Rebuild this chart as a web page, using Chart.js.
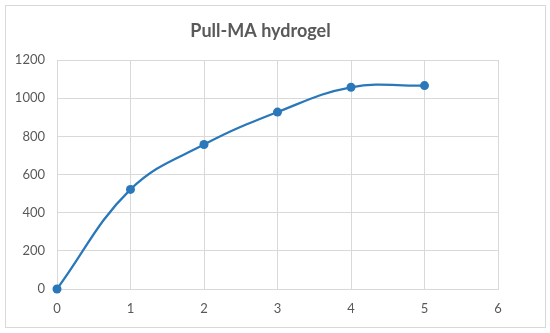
<!DOCTYPE html>
<html lang="en">
<head>
  <meta charset="UTF-8" />
  <title>Pull-MA hydrogel</title>
  <script src="https://cdn.jsdelivr.net/npm/chart.js"></script>
  <style>
    body {
      margin: 0;
      background: white;
    }
    .wrap {
      position: relative;
      width: 550px;
      height: 333px;
    }
    .frame {
      position: absolute;
      left: 5px;
      top: 5px;
      width: 539px;
      height: 321px;
      border: 1px solid #d9d9d9;
      pointer-events: none;
    }
  </style>
</head>
<body>
  <div class="wrap">
    <canvas id="chart" width="550" height="333"></canvas>
    <div class="frame"></div>
  </div>
  <script>
    const chartTitle = 'Pull-MA hydrogel';
    const xValues = [0, 1, 2, 3, 4, 5];
    const yValues = [0, 522, 757, 927, 1057, 1066];

    const textGray = '#595959';
    const gridGray = '#d9d9d9';

    // Excel puts the title a bit left of the canvas centre, so draw it by hand
    const titlePlugin = {
      id: 'excelTitle',
      afterDraw(chart) {
        const c = chart.ctx;
        c.save();
        c.fillStyle = textGray;
        c.font = 'bold 18px Lato';
        c.textAlign = 'center';
        c.textBaseline = 'middle';
        c.fillText(chartTitle, 260.5, 31);
        c.restore();
      }
    };

    const ctx = document.getElementById('chart').getContext('2d');
    new Chart(ctx, {
      type: 'line',
      data: {
        datasets: [{
          data: xValues.map((x, i) => ({ x: x, y: yValues[i] })),
          borderColor: '#2a78b9',
          backgroundColor: '#2a78b9',
          borderWidth: 2.25,
          pointRadius: 4.5,
          pointBorderWidth: 0,
          tension: 0.4,
          clip: false
        }]
      },
      plugins: [titlePlugin],
      options: {
        responsive: false,
        animation: false,
        layout: { padding: { left: 0, right: 52, top: 60, bottom: 0 } },
        plugins: {
          legend: { display: false },
          tooltip: { enabled: false },
          title: { display: false }
        },
        scales: {
          x: {
            type: 'linear',
            min: 0,
            max: 6,
            ticks: {
              stepSize: 1,
              color: textGray,
              font: { family: 'Lato', size: 13 },
              padding: 12,
              callback: (v) => String(v)
            },
            grid: { color: gridGray, drawTicks: false },
            border: { color: gridGray },
            afterFit: (scale) => { scale.height = 44; }
          },
          y: {
            min: 0,
            max: 1200,
            ticks: {
              stepSize: 200,
              color: textGray,
              font: { family: 'Lato', size: 13 },
              padding: 12,
              callback: (v) => String(v)
            },
            grid: { color: gridGray, drawTicks: false },
            border: { display: false },
            afterFit: (scale) => { scale.width = 57; }
          }
        }
      }
    });
  </script>
</body>
</html>
